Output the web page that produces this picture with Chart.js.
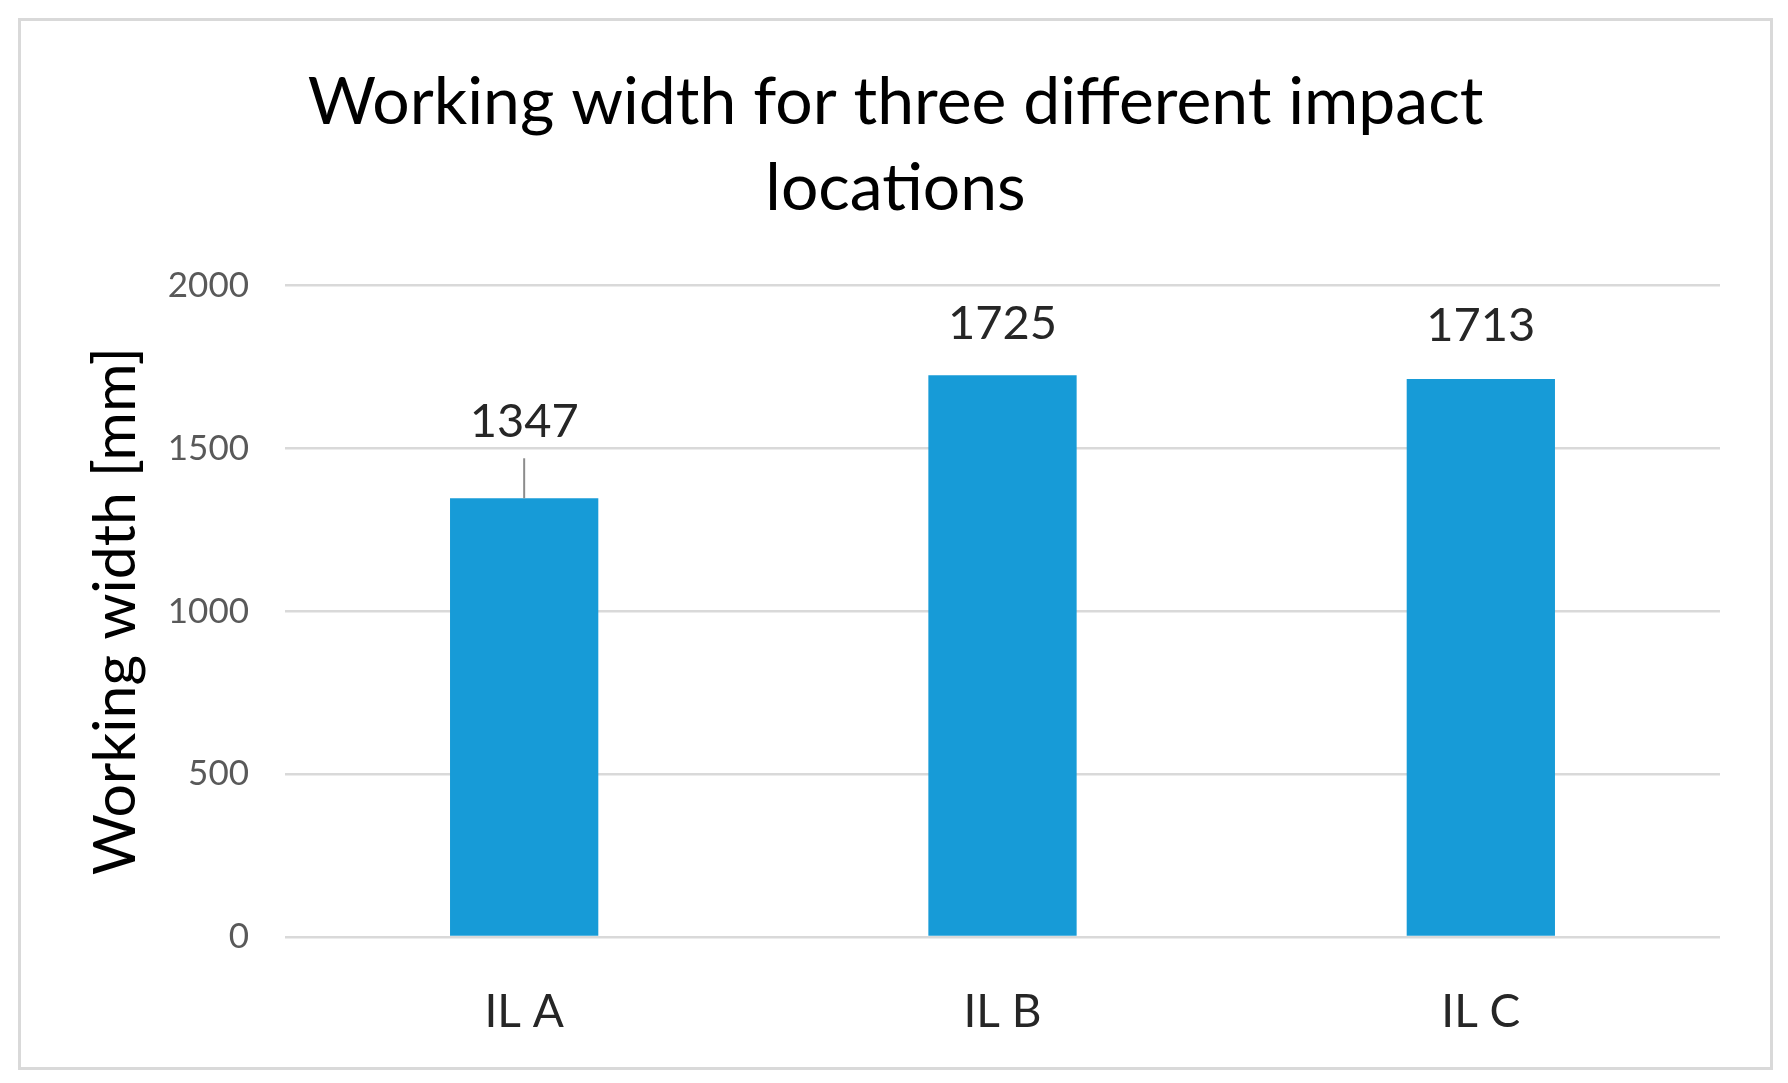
<!DOCTYPE html>
<html>
<head>
<meta charset="utf-8">
<script src="https://cdn.jsdelivr.net/npm/chart.js@4"></script>
<style>
  body { margin: 0; background: #fff; }
  #frame { position: absolute; left: 18px; top: 18px; width: 1749px; height: 1046px; border: 3px solid #d9d9d9; }
</style>
</head>
<body>
<div id="frame"><canvas id="widthChart" width="1749" height="1046"></canvas></div>
<script>
// chart data
var locations = ["IL A", "IL B", "IL C"];
var workingWidth = [1347, 1725, 1713];
var yTicks = [0, 500, 1000, 1500, 2000];

// value labels above the bars, first one sits higher with a leader line
var barLabels = {
    id: "barLabels",
    afterDatasetsDraw: function (chart, args, opts) {
        var ctx = chart.ctx;
        var bars = chart.getDatasetMeta(0).data;
        ctx.save();
        ctx.font = "47px Lato";
        ctx.fillStyle = "#262626";
        ctx.textAlign = "center";
        ctx.textBaseline = "middle";
        bars.forEach(function (bar, i) {
            var off = opts.offsets[i];
            ctx.fillText(chart.data.datasets[0].data[i], bar.x, bar.y - off);
            if (opts.leader[i]) {
                ctx.strokeStyle = "#8c8c8c";
                ctx.lineWidth = 2;
                ctx.beginPath();
                ctx.moveTo(bar.x, bar.y - off + 36);
                ctx.lineTo(bar.x, bar.y);
                ctx.stroke();
            }
        });
        ctx.restore();
    }
};

new Chart("widthChart", {
    type: "bar",
    data: {
        labels: locations,
        datasets: [{
            data: workingWidth,
            backgroundColor: "#179bd7",
            categoryPercentage: 1,
            barPercentage: 0.31
        }]
    },
    options: {
        responsive: false,
        animation: false,
        devicePixelRatio: 1,
        layout: { padding: 0 },
        plugins: {
            legend: { display: false },
            tooltip: { enabled: false },
            title: {
                display: true,
                text: ["Working width for three different impact", "locations"],
                color: "#000",
                font: { family: "Lato", size: 66, weight: "normal", lineHeight: 1.3 },
                padding: { top: 39, bottom: 54 }
            },
            barLabels: { offsets: [76, 51, 53], leader: [true, false, false] }
        },
        scales: {
            x: {
                grid: { display: false },
                border: { display: false },
                ticks: { color: "#262626", padding: 40, font: { family: "Lato", size: 46 } },
                afterFit: function (s) { s.height = 130; }
            },
            y: {
                min: 0,
                max: 2000,
                afterBuildTicks: function (s) { s.ticks = yTicks.map(function (v) { return { value: v }; }); },
                grid: { color: "#d9d9d9", lineWidth: 2.5, drawTicks: false },
                border: { display: false },
                ticks: {
                    color: "#595959",
                    padding: 36,
                    font: { family: "Lato", size: 35 },
                    callback: function (v) { return String(v); }
                },
                title: {
                    display: true,
                    text: "Working width [mm]",
                    color: "#000",
                    font: { family: "Lato", size: 59 },
                    padding: { top: 60, bottom: 0 }
                },
                afterFit: function (s) { s.width = 264; }
            },
            // empty right axis, only keeps a margin right of the plot
            yRight: {
                position: "right",
                grid: { display: false },
                border: { display: false },
                ticks: { display: false },
                afterFit: function (s) { s.width = 50; }
            }
        }
    },
    plugins: [barLabels]
});
</script>
</body>
</html>
